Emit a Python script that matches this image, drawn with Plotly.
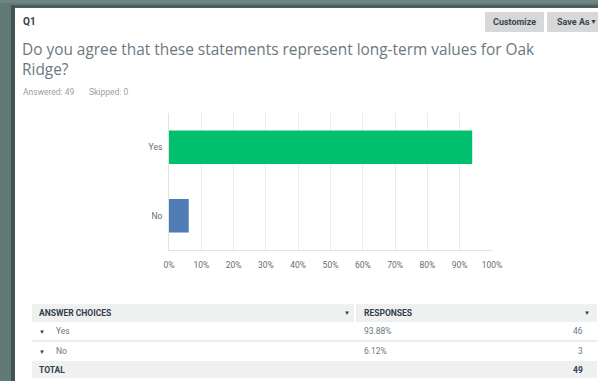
import plotly.graph_objects as go

# ---------------- data ----------------
categories = ["Yes", "No"]
percentages = [93.88, 6.12]
counts = [46, 3]
total = 49
skipped = 0
bar_colors = ["#00bf6f", "#507cb6"]
x_ticks = [0, 10, 20, 30, 40, 50, 60, 70, 80, 90, 100]
question_no = "Q1"
question = "Do you agree that these statements represent long-term values for Oak<br>Ridge?"

W, H = 598, 381


def px(x):
    return x / W


def py(y):
    return 1 - y / H


fig = go.Figure()
fig.add_trace(go.Bar(
    y=categories, x=percentages, orientation="h",
    marker=dict(color=bar_colors, line=dict(width=0)),
    hoverinfo="skip",
))

shapes = []
ann = []


def rect(x0, y0, x1, y1, color, layer="below"):
    shapes.append(dict(type="rect", xref="paper", yref="paper",
                       x0=px(x0), x1=px(x1), y0=py(y1), y1=py(y0),
                       fillcolor=color, line=dict(width=0), layer=layer))


def text(x, y, s, size, color, xanchor="left", bold=False, family="Roboto"):
    ann.append(dict(xref="paper", yref="paper", x=px(x), y=py(y), text=s,
                    showarrow=False, xanchor=xanchor, yanchor="middle",
                    font=dict(size=size, color=color, family=family,
                              weight=700 if bold else 400),
                    borderpad=0))


# frame
rect(0, 0, 598, 3, "#6d8583")
rect(11, 5, 598, 8, "#4d5d5b")
rect(11, 5, 15, 381, "#46524f")
rect(15, 8, 598, 381, "#ffffff")

# buttons
rect(485, 12, 544, 32, "#d6d8d9")
rect(547, 12, 598, 32, "#d6d8d9")
text(514.5, 22, "Customize", 9, "#3b4549", "center", True)
text(556, 22, "Save As", 9, "#3b4549", "left", True)
text(598, 21.5, "▼", 7, "#3b4549", "right")

# header texts
text(22, 21, question_no, 10, "#333e48", bold=True)
ann.append(dict(xref="paper", yref="paper", x=px(21), y=py(38), text=question,
                showarrow=False, xanchor="left", yanchor="top", align="left",
                font=dict(size=15.4, color="#6b7880", family="Open Sans"),
                borderpad=0))
text(22, 92, f"Answered: {total}", 8.5, "#9aa0a4")
text(88, 92, f"Skipped: {skipped}", 8.5, "#9aa0a4")

# table
rect(32, 304, 597, 322, "#eff0f0")
rect(354, 304, 356, 322, "#ffffff")
rect(32, 340, 597, 342, "#ebecec")
rect(32, 361, 597, 378, "#eff0f0")
text(38, 313, "ANSWER CHOICES", 8.5, "#333e48", bold=True)
text(347, 312.5, "▼", 6, "#333e48", "center")
text(363, 313, "RESPONSES", 8.5, "#333e48", bold=True)
text(587, 312.5, "▼", 6, "#333e48", "center")
row_y = [331, 351]
for cat, pct, cnt, yy in zip(categories, percentages, counts, row_y):
    text(42, yy, "▼", 6, "#333e48", "center")
    text(55, yy, cat, 8.5, "#6b7880")
    text(363, yy, f"{pct:.2f}%", 8.5, "#6b7880")
    text(584, yy, str(cnt), 8.5, "#6b7880", "right")
text(38, 369.5, "TOTAL", 8.5, "#333e48", bold=True)
text(584, 369.5, str(total), 8.5, "#333e48", "right", bold=True)

fig.update_layout(
    width=W, height=H,
    margin=dict(l=0, r=0, t=0, b=0, pad=0),
    paper_bgcolor="#617a78",
    plot_bgcolor="rgba(0,0,0,0)",
    showlegend=False,
    bargap=0.51,
    shapes=shapes,
    annotations=ann,
    xaxis=dict(domain=[px(169), px(492)], range=[0, 100], automargin=False,
               tickvals=x_ticks, ticktext=[f"{t}%" for t in x_ticks],
               showgrid=True, gridcolor="#ececec", gridwidth=1,
               zeroline=False, showline=True, linecolor="#e3e3e3", linewidth=1,
               ticks="", ticklabelstandoff=7,
               tickfont=dict(size=8.5, color="#6b6b6b", family="Roboto"),
               fixedrange=True),
    yaxis=dict(domain=[py(250), py(113)], autorange="reversed", automargin=False,
               showgrid=False, zeroline=False, showline=True,
               linecolor="#e3e3e3", linewidth=1, ticks="",
               ticklabelstandoff=4,
               tickfont=dict(size=8.5, color="#6b6b6b", family="Roboto"),
               fixedrange=True),
)

fig.write_html("out.html", config={"displayModeBar": False})
